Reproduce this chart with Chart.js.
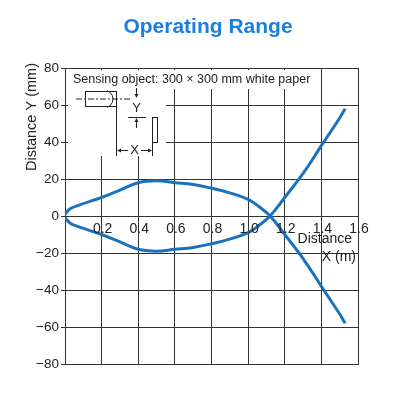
<!DOCTYPE html><html><head><meta charset="utf-8">
<script src="https://cdn.jsdelivr.net/npm/chart.js@4"></script>
<style>html,body{margin:0;background:#fff}#w{width:416px;height:416px;position:relative}</style></head><body>
<div id="w"><canvas id="c"></canvas></div>
<script>
const upperX=[0,0.03,0.08,0.2,0.3,0.4,0.5,0.6,0.7,0.8,0.9,1.0,1.06,1.12,1.2,1.3,1.4,1.5,1.53];
const upperY=[1,4,6,10,14,18,19,18,17,15,12.5,9,5,0,-10,-23,-38,-53,-58];
const lowerY=upperY.map(v=>-v);
const xTicks=[0.2,0.4,0.6,0.8,1.0,1.2,1.4,1.6];
const yTicks=[-80,-60,-40,-20,0,20,40,60,80];
const blue='#1a72bf';
const pts=ys=>upperX.map((x,i)=>({x,y:ys[i]}));
const deco={id:'deco',
beforeDatasetsDraw(ch){const c=ch.ctx;c.save();c.fillStyle='#fff';
c.fillRect(68,70,240,19);c.fillRect(68,88,98,68);c.restore();},
afterDraw(ch){const c=ch.ctx,xs=ch.scales.x,ys=ch.scales.y;c.save();
c.font='14px "Liberation Sans",Arial';c.fillStyle='#222';c.textAlign='center';c.textBaseline='top';
xTicks.forEach(t=>c.fillText(t.toFixed(1),xs.getPixelForValue(t)+1,ys.getPixelForValue(0)+6));
c.textAlign='right';
c.fillText('Distance',352,232);c.fillText('X (m)',356,250);
c.save();c.translate(32,117);c.rotate(-Math.PI/2);c.textAlign='center';c.textBaseline='middle';c.font='14.5px "Liberation Sans",Arial';
c.fillText('Distance Y (mm)',0,0);c.restore();
c.textAlign='left';c.font='12.5px "Liberation Sans",Arial';
c.fillText('Sensing object: 300 \u00d7 300 mm white paper',73,73);
c.strokeStyle='#222';c.lineWidth=1;
c.strokeRect(85.5,91.5,31,15);
c.beginPath();c.arc(104,99,9,-Math.PI/2.6,Math.PI/2.6);c.stroke();
c.setLineDash([6,2,2,2]);c.beginPath();c.moveTo(76,99);c.lineTo(132,99);c.stroke();c.setLineDash([]);
c.strokeRect(152.5,117.5,5,25);
c.beginPath();c.moveTo(116.5,107);c.lineTo(116.5,156);c.moveTo(152.5,143);c.lineTo(152.5,156);
c.moveTo(136.5,88);c.lineTo(136.5,97);c.moveTo(136.5,119);c.lineTo(136.5,128);
c.moveTo(128,117.5);c.lineTo(146,117.5);
c.moveTo(118,150.5);c.lineTo(128,150.5);c.moveTo(141,150.5);c.lineTo(151,150.5);c.stroke();
c.fillStyle='#222';c.textAlign='center';c.textBaseline='middle';c.font='13px "Liberation Sans",Arial';
c.fillText('Y',136.5,108);c.fillText('X',134.5,150);
const tri=(x,y,dx,dy)=>{c.beginPath();c.moveTo(x,y);c.lineTo(x-dx*4-dy*2,y-dy*4-dx*2);c.lineTo(x-dx*4+dy*2,y-dy*4+dx*2);c.fill();};
tri(136.5,98,0,1);tri(136.5,118,0,-1);tri(117,150.5,-1,0);tri(152,150.5,1,0);
c.restore();}};
new Chart(document.getElementById('c'),{type:'scatter',
data:{datasets:[{data:pts(upperY)},{data:pts(lowerY)}].map(d=>({...d,showLine:true,tension:0.4,borderColor:blue,borderWidth:3,pointRadius:0,fill:false}))},
options:{responsive:true,maintainAspectRatio:false,animation:false,events:[],
layout:{padding:{left:0,right:58,top:68,bottom:52}},
plugins:{legend:{display:false},tooltip:{enabled:false},title:{display:false}},
scales:{x:{type:'linear',min:0,max:1.6,afterFit:s=>{s.height=0;},
ticks:{display:false,stepSize:0.2},grid:{color:'#333',lineWidth:1,drawTicks:false},border:{color:'#333'}},
y:{min:-80,max:80,afterFit:s=>{s.width=65;},
ticks:{stepSize:20,color:'#222',font:{size:13.5,family:'"Liberation Sans",Arial'},padding:2,callback:v=>v<0?'\u2212'+(-v):v},
grid:{color:'#333',lineWidth:1,tickLength:4},border:{color:'#333'}}}},
plugins:[deco]});
const w=document.getElementById('w');const h=document.createElement('div');
h.textContent='Operating Range';h.style.cssText='position:absolute;top:14px;left:0;width:416px;text-align:center;font:bold 21px "Liberation Sans",Arial;color:#1a7fe0';
w.appendChild(h);
</script></body></html>
